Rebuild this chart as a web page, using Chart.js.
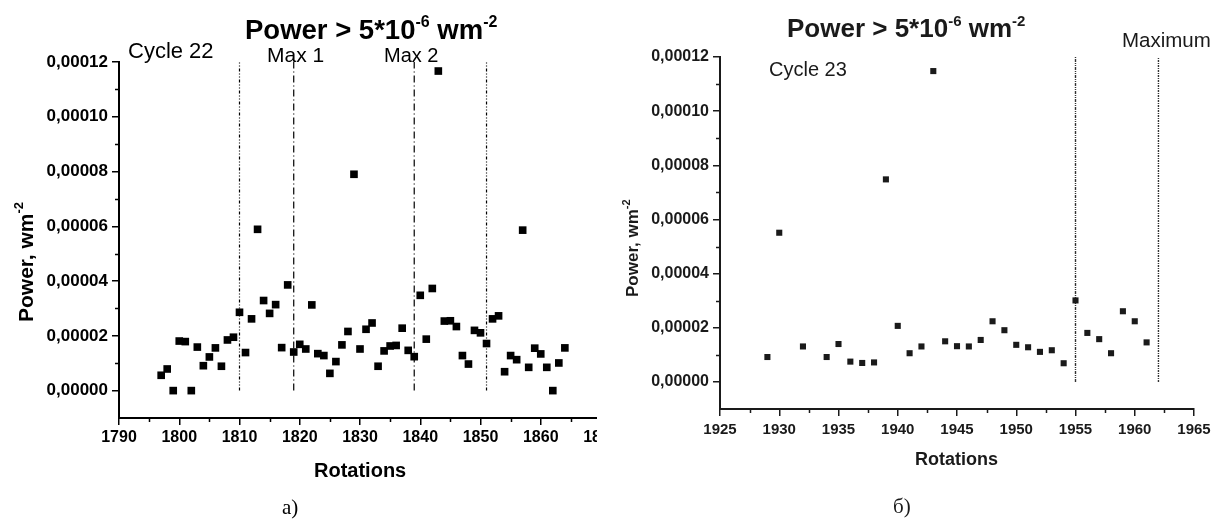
<!DOCTYPE html>
<html>
<head>
<meta charset="utf-8">
<script src="https://cdn.jsdelivr.net/npm/chart.js@4.4.1/dist/chart.umd.min.js"></script>
<style>
  html, body { margin: 0; padding: 0; background: #fff; }
  body { width: 1221px; height: 519px; position: relative; overflow: hidden; }
  #wrapA { position: absolute; left: 0; top: 0; width: 597px; height: 519px; overflow: hidden; }
  #wrapB { position: absolute; left: 600px; top: 0; width: 621px; height: 519px; overflow: hidden; }
  canvas { display: block; }
</style>
</head>
<body>
<div id="wrapA"><canvas id="chartA" width="640" height="519"></canvas></div>
<div id="wrapB"><canvas id="chartB" width="621" height="519"></canvas></div>
<script>
// ---------- Panel a) Cycle 22 ----------
const rotations22 = [1797,1798,1799,1800,1801,1802,1803,1804,1805,1806,1807,1808,1809,1810,1811,1812,1813,1814,1815,1816,1817,1818,1819,1820,1821,1822,1823,1824,1825,1826,1827,1828,1829,1830,1831,1832,1833,1834,1835,1836,1837,1838,1839,1840,1841,1842,1843,1844,1845,1846,1847,1848,1849,1850,1851,1852,1853,1854,1855,1856,1857,1858,1859,1860,1861,1862,1863,1864];
const power22 = [5.6e-6,7.9e-6,0,1.81e-5,1.79e-5,0,1.59e-5,9.1e-6,1.23e-5,1.56e-5,8.9e-6,1.85e-5,1.95e-5,2.86e-5,1.39e-5,2.62e-5,5.89e-5,3.29e-5,2.82e-5,3.14e-5,1.57e-5,3.86e-5,1.41e-5,1.69e-5,1.52e-5,3.13e-5,1.35e-5,1.28e-5,6.3e-6,1.06e-5,1.67e-5,2.16e-5,7.90e-5,1.52e-5,2.24e-5,2.47e-5,8.9e-6,1.45e-5,1.63e-5,1.65e-5,2.28e-5,1.47e-5,1.24e-5,3.48e-5,1.88e-5,3.73e-5,1.167e-4,2.54e-5,2.55e-5,2.34e-5,1.28e-5,9.7e-6,2.20e-5,2.11e-5,1.72e-5,2.62e-5,2.73e-5,6.9e-6,1.28e-5,1.13e-5,5.86e-5,8.5e-6,1.55e-5,1.34e-5,8.5e-6,0,1.01e-5,1.56e-5];
const markers22 = [1810, 1819, 1839, 1851];
const xTicks22 = [1790,1800,1810,1820,1830,1840,1850,1860,1870];
const xMinor22 = [1795,1805,1815,1825,1835,1845,1855,1865];

// ---------- Panel б) Cycle 23 ----------
const rotations23 = [1929,1930,1932,1934,1935,1936,1937,1938,1939,1940,1941,1942,1943,1944,1945,1946,1947,1948,1949,1950,1951,1952,1953,1954,1955,1956,1957,1958,1959,1960,1961];
const power23 = [9.2e-6,5.51e-5,1.31e-5,9.2e-6,1.40e-5,7.5e-6,7.0e-6,7.2e-6,7.48e-5,2.07e-5,1.06e-5,1.31e-5,1.148e-4,1.50e-5,1.32e-5,1.31e-5,1.55e-5,2.24e-5,1.91e-5,1.37e-5,1.28e-5,1.11e-5,1.17e-5,6.9e-6,3.01e-5,1.81e-5,1.58e-5,1.06e-5,2.61e-5,2.24e-5,1.46e-5];
const markers23 = [1955, 1962];
const xTicks23 = [1925,1930,1935,1940,1945,1950,1955,1960,1965];
const xMinor23 = [1927.5,1932.5,1937.5,1942.5,1947.5,1952.5,1957.5,1962.5];

// ---------- shared y axis ----------
const yTicks = [0, 0.00002, 0.00004, 0.00006, 0.00008, 0.00010, 0.00012];
const yMinor = [0.00001, 0.00003, 0.00005, 0.00007, 0.00009, 0.00011];
const yMin = -0.00001, yMax = 0.00012;

const FONT = '"Liberation Sans", Arial, Helvetica, sans-serif';

function drawRich(ctx, x, y, parts, rotate, color) {
  ctx.save();
  ctx.translate(x, y);
  if (rotate) ctx.rotate(-Math.PI / 2);
  ctx.fillStyle = color;
  ctx.textBaseline = 'alphabetic';
  ctx.textAlign = 'left';
  let cx = 0;
  for (const p of parts) {
    ctx.font = (p.bold ? 'bold ' : '') + p.size + 'px ' + (p.family || FONT);
    ctx.fillText(p.t, cx, p.dy || 0);
    cx += ctx.measureText(p.t).width;
  }
  ctx.restore();
}

function makePanel(id, cfg) {
  const datasets = [{
    type: 'scatter',
    data: cfg.xs.map((x, i) => ({ x: x, y: cfg.ys[i] })),
    pointStyle: 'rect',
    pointRadius: cfg.pointR,
    pointBorderWidth: 0,
    backgroundColor: cfg.color,
    borderColor: cfg.color,
    showLine: false
  }];
  cfg.markers.forEach((m, i) => {
    datasets.push({
      type: 'line',
      data: [{ x: m, y: 0 }, { x: m, y: yMax }],
      borderColor: cfg.lineColor,
      borderWidth: cfg.lineWidth,
      borderDash: cfg.dashes[i],
      pointRadius: 0,
      fill: false
    });
  });

  const annot = {
    id: 'annot' + id,
    afterDraw(chart) {
      const ctx = chart.ctx;
      const xs = chart.scales.x, ys = chart.scales.y;
      ctx.save();
      ctx.strokeStyle = cfg.color;
      ctx.lineWidth = 1.5;
      ctx.beginPath();
      for (const v of yMinor) {
        const py = Math.round(ys.getPixelForValue(v)) + 0.5;
        ctx.moveTo(xs.left - 4, py); ctx.lineTo(xs.left, py);
      }
      for (const v of cfg.xMinor) {
        const px = Math.round(xs.getPixelForValue(v)) + 0.5;
        ctx.moveTo(px, ys.bottom); ctx.lineTo(px, ys.bottom + 4);
      }
      ctx.stroke();
      ctx.restore();
      for (const t of cfg.texts) drawRich(ctx, t.x, t.y, t.parts, t.rotate, cfg.color);
    }
  };

  return new Chart(document.getElementById(id), {
    type: 'scatter',
    data: { datasets },
    options: {
      responsive: false,
      animation: false,
      devicePixelRatio: 1,
      events: [],
      layout: { padding: cfg.padding },
      plugins: { legend: { display: false }, title: { display: false }, tooltip: { enabled: false } },
      scales: {
        x: {
          type: 'linear',
          min: cfg.xTicks[0],
          max: cfg.xTicks[cfg.xTicks.length - 1],
          afterBuildTicks: (s) => { s.ticks = cfg.xTicks.map(v => ({ value: v })); },
          afterFit: (s) => { s.height = cfg.xHeight; },
          ticks: {
            autoSkip: false, maxRotation: 0, padding: cfg.xTickPad,
            color: cfg.color,
            font: { family: FONT, size: cfg.xTickSize, weight: 'bold' },
            callback: (v) => String(v)
          },
          grid: { display: true, drawOnChartArea: false, drawTicks: true, tickLength: 7, color: cfg.color, lineWidth: 1.5 },
          border: { display: true, color: cfg.color, width: 2 }
        },
        y: {
          type: 'linear',
          min: yMin, max: yMax,
          afterBuildTicks: (s) => { s.ticks = yTicks.map(v => ({ value: v })); },
          afterFit: (s) => { s.width = cfg.yWidth; },
          ticks: {
            padding: 4,
            color: cfg.color,
            font: { family: FONT, size: cfg.yTickSize, weight: 'bold' },
            callback: (v) => Number(v).toFixed(5).replace('.', ',')
          },
          grid: { display: true, drawOnChartArea: false, drawTicks: true, tickLength: 7, color: cfg.color, lineWidth: 1.5 },
          border: { display: true, color: cfg.color, width: 2 }
        }
      }
    },
    plugins: [annot]
  });
}

makePanel('chartA', {
  xs: rotations22, ys: power22, markers: markers22,
  xTicks: xTicks22, xMinor: xMinor22,
  color: '#000', lineColor: '#000', lineWidth: 1.2,
  dashes: [[3,2,1,2,1,2],[7,3,1,3],[7,3,1,3],[3,2,1,2,1,2]],
  pointR: 5.4,
  padding: { left: 0, top: 62, right: 39, bottom: 1 },
  yWidth: 119, xHeight: 100, xTickPad: 3, xTickSize: 16, yTickSize: 17,
  texts: [
    { x: 245, y: 39, parts: [
      { t: 'Power > 5*10', size: 27.5, bold: true },
      { t: '-6', size: 16, bold: true, dy: -12 },
      { t: ' wm', size: 27.5, bold: true },
      { t: '-2', size: 16, bold: true, dy: -12 } ] },
    { x: 128, y: 58, parts: [{ t: 'Cycle 22', size: 22 }] },
    { x: 267, y: 62, parts: [{ t: 'Max 1', size: 21 }] },
    { x: 384, y: 62, parts: [{ t: 'Max 2', size: 20 }] },
    { x: 33, y: 322, rotate: true, parts: [
      { t: 'Power, wm', size: 21, bold: true },
      { t: '-2', size: 13, bold: true, dy: -10 } ] },
    { x: 314, y: 477, parts: [{ t: 'Rotations', size: 20, bold: true }] },
    { x: 282, y: 514, parts: [{ t: 'a)', size: 21, family: '"Liberation Serif", "DejaVu Serif", serif' }] }
  ]
});

makePanel('chartB', {
  xs: rotations23, ys: power23, markers: markers23,
  xTicks: xTicks23, xMinor: xMinor23,
  color: '#1a1a1a', lineColor: '#333', lineWidth: 1.4,
  dashes: [[3,1,1,1,1,1],[2,1,1,1]],
  pointR: 4.3,
  padding: { left: 0, top: 57, right: 27, bottom: 10 },
  yWidth: 120, xHeight: 100, xTickPad: 5, xTickSize: 15, yTickSize: 16,
  texts: [
    { x: 187, y: 37, parts: [
      { t: 'Power > 5*10', size: 26, bold: true },
      { t: '-6', size: 15, bold: true, dy: -11 },
      { t: ' wm', size: 26, bold: true },
      { t: '-2', size: 15, bold: true, dy: -11 } ] },
    { x: 169, y: 76, parts: [{ t: 'Cycle 23', size: 20 }] },
    { x: 522, y: 47, parts: [{ t: 'Maximum', size: 20.5 }] },
    { x: 38, y: 297, rotate: true, parts: [
      { t: 'Power, wm', size: 17, bold: true },
      { t: '-2', size: 11, bold: true, dy: -8 } ] },
    { x: 315, y: 465, parts: [{ t: 'Rotations', size: 18, bold: true }] },
    { x: 293, y: 513, parts: [{ t: 'б)', size: 21, family: '"Liberation Serif", "DejaVu Serif", serif' }] }
  ]
});
</script>
</body>
</html>
